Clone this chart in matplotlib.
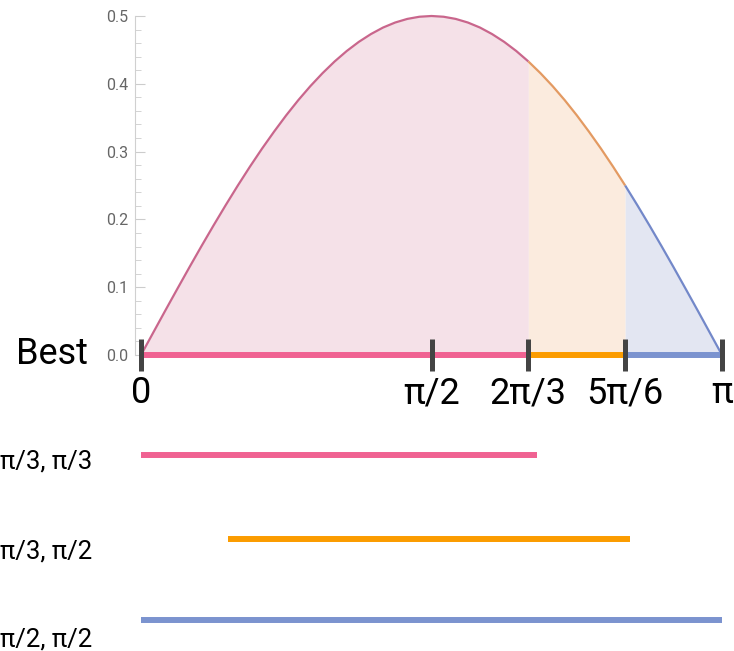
import matplotlib.pyplot as plt
from matplotlib.ticker import MultipleLocator, FormatStrFormatter
import numpy as np

plt.rcParams['font.family'] = ['Roboto', 'DejaVu Sans']

# curve values, x in steps of pi/48
x_vals = np.linspace(0, np.pi, 49)
y_vals = [0.0, 0.0327, 0.0653, 0.0975, 0.1294, 0.1607, 0.1913, 0.2211, 0.25, 0.2778,
          0.3044, 0.3296, 0.3536, 0.3760, 0.3967, 0.4157, 0.4330, 0.4484, 0.4619, 0.4734,
          0.4830, 0.4904, 0.4957, 0.4989, 0.5,
          0.4989, 0.4957, 0.4904, 0.4830, 0.4734, 0.4619, 0.4484, 0.4330, 0.4157, 0.3967,
          0.3760, 0.3536, 0.3296, 0.3044, 0.2778, 0.25, 0.2211, 0.1913, 0.1607, 0.1294,
          0.0975, 0.0653, 0.0327, 0.0]

# segment breaks (index into x_vals) and colours
seg_idx = [(0, 32), (32, 40), (40, 48)]
line_cols = ['#c9668c', '#e39a62', '#7388c9']
fill_cols = ['#f5e1e8', '#fbebde', '#e3e6f2']
bar_cols = ['#f06292', '#fb9c00', '#7b93cf']

# "Best" bar pieces
best_start = [0, 2 * np.pi / 3, 5 * np.pi / 6]
best_end = [2 * np.pi / 3, 5 * np.pi / 6, np.pi]

tick_pos = [0, np.pi / 2, 2 * np.pi / 3, 5 * np.pi / 6, np.pi]
tick_lbl = ['0', 'π/2', '2π/3', '5π/6', 'π']

# ranges below
row_labels = ['π/3, π/3', 'π/3, π/2', 'π/2, π/2']
row_start = [0.0, 0.150 * np.pi, 0.0]
row_end = [0.682 * np.pi, 0.842 * np.pi, 1.0 * np.pi]

fig = plt.figure(figsize=(7.34, 6.51), dpi=100)
W, H = 734, 651
ax = fig.add_axes([135 / W, (H - 355) / H, (722 - 135) / W, 339 / H])
ax.set_xlim(-6 / 581 * np.pi, np.pi)
ax.set_ylim(0, 0.5)
ppu = 678.0  # pixels per y unit

for (a, b), lc, fc in zip(seg_idx, line_cols, fill_cols):
    xs = x_vals[a:b + 1]
    ys = y_vals[a:b + 1]
    ax.fill_between(xs, 0, ys, color=fc, lw=0)
    ax.plot(xs, ys, color=lc, lw=1.6, clip_on=False, solid_capstyle='butt')

for s, e, c in zip(best_start, best_end, bar_cols):
    ax.plot([s, e], [0, 0], color=c, lw=4.3, solid_capstyle='butt', clip_on=False, zorder=3)

ax.plot(tick_pos, [0] * len(tick_pos), ls='none', marker='|', ms=23, mew=3.6,
        color='#444444', clip_on=False, zorder=4)
for p, t in zip(tick_pos, tick_lbl):
    ax.text(p, -48 / ppu, t, ha='center', va='baseline', fontsize=26, color='black', clip_on=False)

row_line_px = [455, 539, 620]
row_text_px = [469, 558, 647]
for i in range(len(row_labels)):
    yl = -(row_line_px[i] - 355) / ppu
    ax.plot([row_start[i], row_end[i]], [yl, yl], color=bar_cols[i], lw=4.3,
            solid_capstyle='butt', clip_on=False)
    fig.text(0, 1 - row_text_px[i] / H, row_labels[i], ha='left', va='baseline', fontsize=18.5)

fig.text(16 / W, 1 - 364 / H, 'Best', ha='left', va='baseline', fontsize=26)

for s in ['top', 'right', 'bottom']:
    ax.spines[s].set_visible(False)
ax.spines['left'].set_color('#d0d0d0')
ax.spines['left'].set_bounds(0, 0.5)
ax.set_xticks([])
ax.yaxis.set_major_locator(MultipleLocator(0.1))
ax.yaxis.set_minor_locator(MultipleLocator(0.02))
ax.yaxis.set_major_formatter(FormatStrFormatter('%.1f'))
ax.tick_params(axis='y', which='major', direction='in', length=7, color='#cccccc',
               labelsize=11.5, labelcolor='#666666', pad=5)
ax.tick_params(axis='y', which='minor', direction='in', length=4, color='#cccccc')

fig.savefig('out.png', dpi=100)
